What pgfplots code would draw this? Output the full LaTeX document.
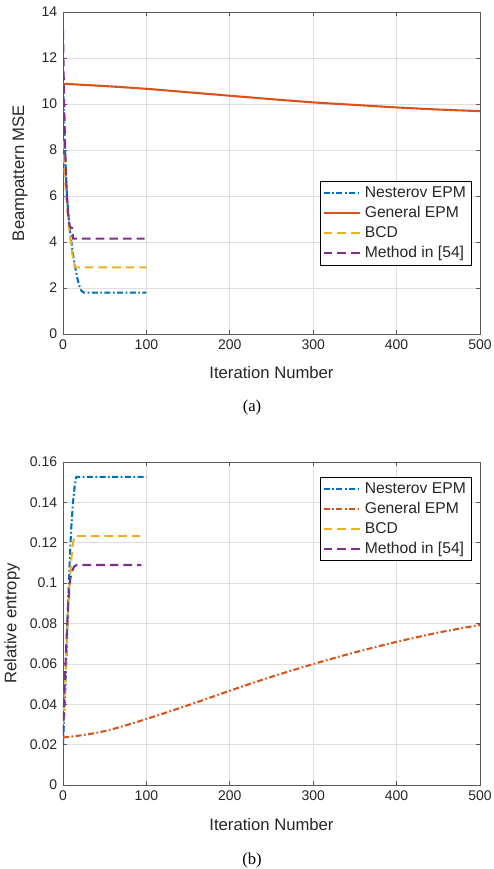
\documentclass[border=0pt]{standalone}
\usepackage{pgfplots}
\pgfplotsset{compat=1.18}
\usepackage{fontspec}
\setmainfont{Liberation Sans}
\newfontfamily\seriffont{Liberation Serif}
\definecolor{mblue}{rgb}{0,0.447,0.741}
\definecolor{morange}{rgb}{0.85,0.325,0.098}
\definecolor{myellow}{rgb}{0.929,0.694,0.125}
\definecolor{mpurple}{rgb}{0.494,0.184,0.556}
\definecolor{axgray}{gray}{0.35}
\definecolor{txtgray}{gray}{0.15}
\tikzset{
  mdash/.style={dash pattern=on 5.2pt off 3pt},
  mdashdot/.style={dash pattern=on 3.6pt off 1.5pt on 1pt off 1.5pt},
}
\pgfplotsset{
  mystyle/.style={
    scale only axis,
    width=250.2pt,
    xmin=0, xmax=500,
    xtick={0,100,...,500},
    grid=major,
    major grid style={color=gray!25, line width=0.4pt},
    axis line style={color=axgray, line width=0.5pt},
    tick style={color=axgray, line width=0.5pt},
    tick align=inside,
    major tick length=2.5pt,
    ticklabel style={font=\fontsize{8.4}{9}\selectfont, text=txtgray},
    label style={font=\fontsize{10}{12}\selectfont, text=txtgray},
    /pgf/number format/assume math mode=true,
    scaled y ticks=false,
    xlabel={Iteration Number},
    legend cell align=left,
    legend style={font=\fontsize{9.4}{11.4}\selectfont, draw=black, line width=0.5pt,
      inner xsep=1.5pt, inner ysep=1.2pt, row sep=-0.3pt, text=txtgray},
    legend image code/.code={\draw[#1,line width=1.25pt] (0pt,0pt) -- (22pt,0pt);},
    every axis plot/.append style={line width=1.25pt},
  }
}
\begin{document}
\begin{tikzpicture}
\path[use as bounding box] (-37.8pt,-321pt) rectangle (258.6pt,200.4pt);
% ---------------- (a)
\begin{axis}[mystyle,
  at={(0pt,0pt)}, anchor=south west,
  height=193.2pt,
  ymin=0, ymax=14, ytick={0,2,...,14},
  ylabel={Beampattern MSE},
  xlabel style={at={(axis description cs:0.5,-0.121)}, anchor=center},
  ylabel style={at={(axis description cs:-0.103,0.5)}, anchor=center},
  legend style={at={(0.981,0.475)}, anchor=north east},
]
\addplot[color=mblue, mdashdot] coordinates {
(0,11.25) (1,9.6) (2,8.3) (3,7.3) (4,6.5) (5,5.9) (6,5.4) (8,4.6) (10,4.0) (12,3.5)
(14,3.0) (16,2.65) (18,2.3) (20,2.05) (22,1.88) (25,1.8) (100,1.8)};
\addlegendentry{Nesterov EPM}
\addplot[color=morange, smooth] coordinates {
(0,10.88) (50,10.78) (100,10.66) (150,10.51) (200,10.36) (250,10.21)
(300,10.07) (350,9.96) (400,9.85) (450,9.76) (500,9.69)};
\addlegendentry{General EPM}
\addplot[color=myellow, mdash] coordinates {
(0,8.4) (2,7.0) (4,5.9) (6,5.1) (8,4.4) (10,3.8) (12,3.3) (14,2.95) (15,2.9) (100,2.9)};
\addlegendentry{BCD}
\addplot[color=mpurple, mdash] coordinates {
(0,13.2) (1,10.8) (2,9.0) (3,7.6) (4,6.6) (5,5.9) (6,5.3) (7,4.9) (8,4.7) (10,4.6)
(11,4.6) (12,4.15) (98,4.15)};
\addlegendentry{Method in [54]}
\end{axis}
\node[font=\seriffont\fontsize{10}{12}\selectfont] at (113.4pt,-43.8pt) {(a)};
% ---------------- (b)
\begin{axis}[mystyle,
  at={(0pt,-270.6pt)}, anchor=south west,
  height=193.8pt,
  ymin=0, ymax=0.16, ytick={0,0.02,...,0.16},
  yticklabels={0,0.02,0.04,0.06,0.08,0.1,0.12,0.14,0.16},
  ylabel={Relative entropy},
  xlabel style={at={(axis description cs:0.5,-0.121)}, anchor=center},
  ylabel style={at={(axis description cs:-0.122,0.5)}, anchor=center},
  legend style={at={(0.981,0.954)}, anchor=north east},
]
\addplot[color=mblue, mdashdot] coordinates {
(0,0.02) (1,0.03) (2,0.04) (3,0.05) (4,0.062) (5,0.075) (6,0.088) (7,0.1) (8,0.11)
(9,0.12) (10,0.128) (12,0.14) (14,0.148) (16,0.1526) (100,0.1526)};
\addlegendentry{Nesterov EPM}
\addplot[color=morange, mdashdot, smooth] coordinates {
(0,0.0235) (25,0.0248) (50,0.0267) (75,0.0295) (100,0.0327) (150,0.0395) (200,0.0467) (250,0.0536)
(300,0.0599) (350,0.0657) (400,0.0709) (450,0.0755) (500,0.0793)};
\addlegendentry{General EPM}
\addplot[color=myellow, mdash] coordinates {
(0,0.03) (2,0.045) (4,0.065) (6,0.085) (8,0.1) (10,0.112) (12,0.12) (14,0.1233) (99,0.1233)};
\addlegendentry{BCD}
\addplot[color=mpurple, mdash] coordinates {
(0,0.025) (2,0.05) (4,0.07) (6,0.088) (8,0.1) (10,0.105) (13,0.108) (16,0.109) (94,0.109)};
\addlegendentry{Method in [54]}
\end{axis}
\node[font=\seriffont\fontsize{10}{12}\selectfont] at (113.4pt,-315.6pt) {(b)};
\end{tikzpicture}
\end{document}
